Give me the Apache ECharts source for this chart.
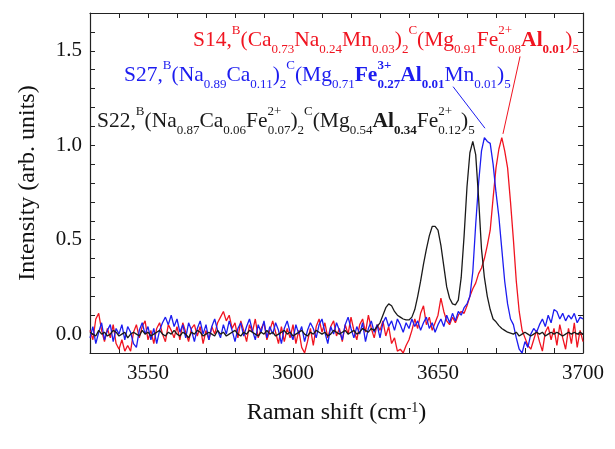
<!DOCTYPE html>
<html>
<head>
<meta charset="utf-8">
<script src="https://cdn.jsdelivr.net/npm/echarts@6/dist/echarts.min.js"></script>
<style>
  html, body { margin: 0; padding: 0; background: #fff; }
  #chart { width: 615px; height: 449px; }
</style>
</head>
<body>
<div id="chart"></div>
<script>
// Raman shift (cm-1), sampled every 1 cm-1
const ramanShift = [
  3530, 3531, 3532, 3533, 3534, 3535, 3536, 3537, 3538, 3539,
  3540, 3541, 3542, 3543, 3544, 3545, 3546, 3547, 3548, 3549,
  3550, 3551, 3552, 3553, 3554, 3555, 3556, 3557, 3558, 3559,
  3560, 3561, 3562, 3563, 3564, 3565, 3566, 3567, 3568, 3569,
  3570, 3571, 3572, 3573, 3574, 3575, 3576, 3577, 3578, 3579,
  3580, 3581, 3582, 3583, 3584, 3585, 3586, 3587, 3588, 3589,
  3590, 3591, 3592, 3593, 3594, 3595, 3596, 3597, 3598, 3599,
  3600, 3601, 3602, 3603, 3604, 3605, 3606, 3607, 3608, 3609,
  3610, 3611, 3612, 3613, 3614, 3615, 3616, 3617, 3618, 3619,
  3620, 3621, 3622, 3623, 3624, 3625, 3626, 3627, 3628, 3629,
  3630, 3631, 3632, 3633, 3634, 3635, 3636, 3637, 3638, 3639,
  3640, 3641, 3642, 3643, 3644, 3645, 3646, 3647, 3648, 3649,
  3650, 3651, 3652, 3653, 3654, 3655, 3656, 3657, 3658, 3659,
  3660, 3661, 3662, 3663, 3664, 3665, 3666, 3667, 3668, 3669,
  3670, 3671, 3672, 3673, 3674, 3675, 3676, 3677, 3678, 3679,
  3680, 3681, 3682, 3683, 3684, 3685, 3686, 3687, 3688, 3689,
  3690, 3691, 3692, 3693, 3694, 3695, 3696, 3697, 3698, 3699,
  3700
];

// S14 (red)
const s14 = [
  0.02, -0.03, 0.08, 0.11, 0.02, -0.04, 0.03, -0.02, 0.05, -0.05,
  -0.08, -0.03, -0.09, -0.06, -0.09, 0.01, 0.05, -0.02, 0.04, 0.07,
  -0.03, 0.02, -0.05, 0.03, 0.06, 0.0, -0.04, 0.05, 0.02, -0.02,
  0.04, -0.03, 0.06, 0.01, -0.04, 0.03, 0.05, -0.01, 0.04, -0.05,
  0.02, -0.03, 0.04, 0.0, 0.06, 0.09, 0.12, 0.07, 0.1, 0.03,
  0.06, -0.02, 0.07, 0.02, -0.04, 0.05, 0.01, 0.08, -0.02, 0.03,
  0.06, -0.03, 0.02, 0.07, 0.01, -0.05, 0.04, -0.04, 0.03, -0.02,
  0.05, -0.05, 0.02, -0.07, -0.1, -0.04, 0.03, -0.06, 0.04, 0.08,
  0.01, 0.06, -0.02, 0.04, 0.07, -0.01, 0.03, -0.04, 0.05, 0.0,
  0.09, 0.02, -0.03, 0.05, 0.08, 0.01, 0.1, 0.03, -0.02, 0.05,
  0.02, 0.07, -0.01, 0.04, -0.05, -0.02, -0.09, -0.08, -0.1, -0.06,
  -0.03, 0.02, 0.08, 0.03, 0.11, 0.15, 0.05, 0.09, 0.02, 0.06,
  0.1, 0.19, 0.12, 0.07, 0.05, 0.09, 0.06, 0.1, 0.12, 0.11,
  0.15, 0.2, 0.24, 0.27, 0.32, 0.35, 0.4, 0.47, 0.55, 0.72,
  0.88, 0.98, 1.04, 0.97, 0.88, 0.7, 0.5, 0.28, 0.12, 0.02,
  -0.02, -0.06, -0.08, -0.03, 0.02, -0.04, -0.09, 0.01, 0.04, -0.03,
  0.03, -0.06, 0.05, -0.02, -0.08, 0.03, -0.05, 0.06, -0.07, 0.02,
  -0.04
];

// S27 (blue)
const s27 = [
  -0.02, 0.04, -0.05, 0.01, 0.06, -0.03, 0.02, 0.05, -0.04, 0.03,
  0.0, 0.05, -0.03, 0.04, 0.01, -0.05, -0.07, 0.02, 0.06, 0.0,
  0.04, -0.03, 0.03, -0.05, 0.02, 0.06, 0.09, 0.05, 0.1, 0.04,
  0.08, 0.01, 0.05, -0.02, 0.06, 0.02, -0.04, 0.03, 0.07, 0.0,
  0.05, -0.03, 0.04, 0.08, 0.02, -0.02, 0.05, 0.0, 0.07, 0.02,
  -0.04, 0.03, 0.06, -0.01, 0.04, 0.08, 0.02, -0.03, 0.05, 0.01,
  0.07, -0.02, 0.04, 0.0, 0.06, 0.02, -0.05, 0.03, 0.07, 0.01,
  -0.03, 0.05, 0.0, 0.04, -0.04, 0.02, 0.06, 0.03, -0.02, 0.05,
  0.08, 0.01, -0.05, 0.04, 0.0, 0.06, 0.02, -0.03, 0.05, 0.09,
  0.03, -0.02, 0.04, 0.0, 0.06, -0.04, 0.03, 0.07, 0.01, 0.05,
  -0.02, 0.06, 0.09, 0.04, 0.07, 0.02, 0.08, 0.05, 0.01, 0.06,
  0.03, 0.08, 0.04, 0.07, 0.02, 0.06, 0.09, 0.03, 0.06, 0.01,
  0.05, 0.08, 0.04, 0.1, 0.06, 0.11, 0.07, 0.12, 0.1, 0.14,
  0.16, 0.2, 0.33, 0.58, 0.8, 0.97, 1.04, 1.02, 1.01, 0.9,
  0.75, 0.62, 0.45, 0.28, 0.16, 0.08, 0.05, -0.02, -0.08, -0.1,
  -0.04, -0.07, 0.0, 0.03, 0.01, 0.05, 0.08, 0.04, 0.1, 0.06,
  0.13, 0.12, 0.08, 0.11, 0.07, 0.1, 0.08, 0.11, 0.06, 0.09,
  0.08
];

// S22 (black)
const s22 = [
  0.01, 0.0, -0.01, 0.02, 0.0, 0.01, -0.01, 0.0, 0.02, 0.01,
  -0.01, 0.0, 0.01, -0.02, 0.0, 0.01, 0.0, -0.01, 0.02, 0.0,
  0.01, -0.01, 0.0, 0.01, 0.02, 0.0, -0.01, 0.01, 0.0, 0.02,
  0.0, -0.01, 0.01, 0.0, -0.02, 0.01, 0.0, 0.02, 0.01, -0.01,
  0.0, 0.01, 0.0, -0.01, 0.02, 0.0, 0.01, -0.01, 0.0, 0.01,
  0.02, 0.0, -0.01, 0.01, 0.0, 0.02, 0.01, 0.0, -0.01, 0.01,
  0.0, 0.02, 0.0, 0.01, -0.01, 0.0, 0.01, 0.02, 0.0, 0.01,
  -0.01, 0.0, 0.01, 0.02, 0.0, -0.01, 0.01, 0.0, 0.02, 0.01,
  0.0, 0.01, -0.01, 0.0, 0.02, 0.01, 0.0, 0.01, 0.02, 0.0,
  0.01, 0.02, 0.0, 0.01, 0.03, 0.02, 0.01, 0.03, 0.02, 0.04,
  0.06, 0.1, 0.14, 0.16, 0.15, 0.12, 0.1, 0.09, 0.08, 0.075,
  0.075, 0.09, 0.13, 0.2, 0.28, 0.37, 0.45, 0.52, 0.57, 0.57,
  0.55, 0.47, 0.36, 0.25, 0.19, 0.16, 0.155, 0.18, 0.3, 0.52,
  0.78, 0.96, 1.02, 0.95, 0.72, 0.45, 0.3, 0.2, 0.13, 0.08,
  0.065, 0.045, 0.03, 0.02, 0.01, 0.005, 0.0, 0.01, -0.01, 0.0,
  0.01, 0.0, -0.01, 0.0, 0.01, 0.0, 0.01, -0.01, 0.0, 0.01,
  0.0, 0.01, 0.0, -0.01, 0.0, 0.01, 0.0, 0.01, 0.0, 0.01,
  0.0
];

// leader lines from labels to peaks, in data coordinates
const leaderS14 = [[3678.3, 1.47], [3672.4, 1.06]];
const leaderS27 = [[3655.2, 1.31], [3666.2, 1.09]];

const xLabels = [3550, 3600, 3650, 3700];
const yLabels = [0, 0.5, 1.0, 1.5];

const RED = '#f01420';
const BLUE = '#1c1cf0';
const BLACK = '#1a1a1a';
const FONT = '"Liberation Serif", "DejaVu Serif", serif';

const labelS14 = '{n|S14,}{sup|B}{n|(Ca}{sub|0.73}{n|Na}{sub|0.24}{n|Mn}{sub|0.03}{n|)}{sub|2}{sup|C}{n|(Mg}{sub|0.91}{n|Fe}{supz|2+}{sub|0.08}{nb|Al}{subb|0.01}{n|)}{sub|5}';
const labelS27 = '{n|S27,}{sup|B}{n|(Na}{sub|0.89}{n|Ca}{sub|0.11}{n|)}{sub|2}{sup|C}{n|(Mg}{sub|0.71}{nb|Fe}{supzb|3+}{subb|0.27}{nb|Al}{subb|0.01}{n|Mn}{sub|0.01}{n|)}{sub|5}';
const labelS22 = '{n|S22,}{sup|B}{n|(Na}{sub|0.87}{n|Ca}{sub|0.06}{n|Fe}{supz|2+}{sub|0.07}{n|)}{sub|2}{sup|C}{n|(Mg}{sub|0.54}{nb|Al}{subb|0.34}{n|Fe}{supz|2+}{sub|0.12}{n|)}{sub|5}';

const rich = {
  n: { fontFamily: FONT, fontSize: 21.5, lineHeight: 32, verticalAlign: 'middle' },
  nb: { fontFamily: FONT, fontSize: 21.5, fontWeight: 'bold', lineHeight: 32, verticalAlign: 'middle' },
  sub: { fontFamily: FONT, fontSize: 13, lineHeight: 8, verticalAlign: 'bottom' },
  subb: { fontFamily: FONT, fontSize: 13, fontWeight: 'bold', lineHeight: 8, verticalAlign: 'bottom' },
  sup: { fontFamily: FONT, fontSize: 13, lineHeight: 17, verticalAlign: 'top' },
  supz: { fontFamily: FONT, fontSize: 13, lineHeight: 17, verticalAlign: 'top', width: 0.01 },
  supzb: { fontFamily: FONT, fontSize: 13, fontWeight: 'bold', lineHeight: 17, verticalAlign: 'top', width: 0.01 }
};

function pairs(ys) {
  return ramanShift.map((x, i) => [x, ys[i]]);
}

function leader(pts, color) {
  return {
    silent: true,
    symbol: 'none',
    label: { show: false },
    lineStyle: { color: color, width: 1, type: 'solid' },
    data: [[{ coord: pts[0] }, { coord: pts[1] }]]
  };
}

function textLabel(text, x, y, color) {
  return {
    type: 'text',
    x: x,
    y: y,
    style: { text: text, rich: rich, fill: color, align: 'left', verticalAlign: 'middle' }
  };
}

const chart = echarts.init(document.getElementById('chart'));

const tickStyle = { show: true, inside: true, length: 5, lineStyle: { color: '#222', width: 1 } };
const lineAxis = { show: true, onZero: false, lineStyle: { color: '#222', width: 1.2 } };

chart.setOption({
  animation: false,
  backgroundColor: '#fff',
  grid: { left: 90, right: 32, top: 13, bottom: 96 },
  xAxis: [
    {
      type: 'value', min: 3530, max: 3700, interval: 10,
      axisLine: lineAxis, axisTick: tickStyle, splitLine: { show: false },
      axisLabel: {
        customValues: xLabels, color: '#111', fontFamily: FONT, fontSize: 21, margin: 10,
        formatter: v => String(v)
      },
      name: 'Raman shift (cm{sup|-1})', nameLocation: 'middle', nameGap: 48,
      nameTextStyle: {
        color: '#111', fontFamily: FONT, fontSize: 24,
        rich: { sup: { fontFamily: FONT, fontSize: 14, verticalAlign: 'top', lineHeight: 14, color: '#111' } }
      }
    },
    {
      type: 'value', position: 'top', min: 3530, max: 3700, interval: 10,
      axisLine: lineAxis, axisTick: tickStyle, axisLabel: { show: false }, splitLine: { show: false }
    }
  ],
  yAxis: [
    {
      type: 'value', min: -0.1, max: 1.7, interval: 0.1,
      axisLine: lineAxis, axisTick: tickStyle, splitLine: { show: false },
      axisLabel: {
        customValues: yLabels, color: '#111', fontFamily: FONT, fontSize: 21, margin: 8,
        formatter: v => v.toFixed(1)
      },
      name: 'Intensity (arb. units)', nameLocation: 'middle', nameGap: 50, nameRotate: 90,
      nameTextStyle: { color: '#111', fontFamily: FONT, fontSize: 24 }
    },
    {
      type: 'value', position: 'right', min: -0.1, max: 1.7, interval: 0.1,
      axisLine: lineAxis, axisTick: tickStyle, axisLabel: { show: false }, splitLine: { show: false }
    }
  ],
  series: [
    {
      name: 'S14', type: 'line', data: pairs(s14), showSymbol: false, symbol: 'none',
      lineStyle: { color: RED, width: 1.3 }, markLine: leader(leaderS14, RED), z: 2
    },
    {
      name: 'S27', type: 'line', data: pairs(s27), showSymbol: false, symbol: 'none',
      lineStyle: { color: BLUE, width: 1.3 }, markLine: leader(leaderS27, BLUE), z: 3
    },
    {
      name: 'S22', type: 'line', data: pairs(s22), showSymbol: false, symbol: 'none',
      lineStyle: { color: BLACK, width: 1.3 }, z: 4
    }
  ],
  graphic: [
    textLabel(labelS14, 193, 40, RED),
    textLabel(labelS27, 124, 75, BLUE),
    textLabel(labelS22, 97, 121, BLACK)
  ]
});
</script>
</body>
</html>
